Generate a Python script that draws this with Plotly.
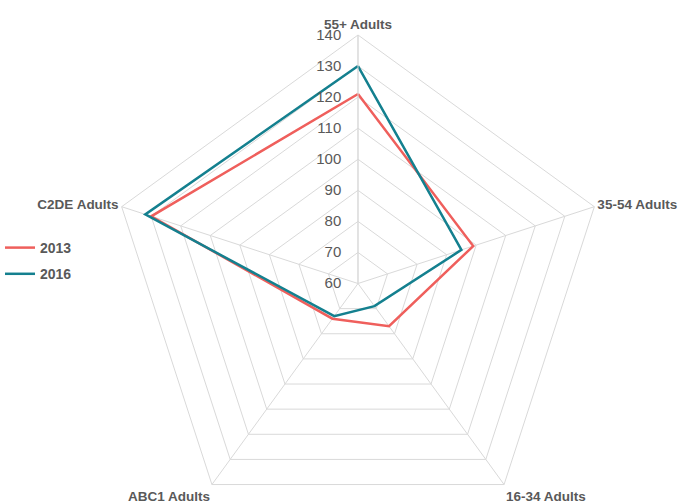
import plotly.graph_objects as go

# Audience index by demographic group
categories = ["55+ Adults", "35-54 Adults", "16-34 Adults", "ABC1 Adults", "C2DE Adults"]
values_2013 = [121, 99, 77, 74, 130]
values_2016 = [130, 95, 69, 73, 132]
radial_ticks = [60, 70, 80, 90, 100, 110, 120, 130, 140]

RED = "#EF5F5C"
TEAL = "#14808F"
GRID = "#D9D9D9"
TEXT = "#595959"

W, H = 689, 540


def closed(seq):
    return list(seq) + [seq[0]]


fig = go.Figure()
fig.add_trace(go.Scatterpolar(
    r=closed(values_2013), theta=closed(categories), name="2013",
    mode="lines", line=dict(color=RED, width=2.5), legendgroup="a",
))
fig.add_trace(go.Scatterpolar(
    r=closed(values_2016), theta=closed(categories), name="2016",
    mode="lines", line=dict(color=TEAL, width=2.5), legendgroup="b",
))

fig.update_layout(
    width=W, height=H,
    margin=dict(l=109, r=82, t=35, b=H - 532),
    paper_bgcolor="white",
    font=dict(family="Liberation Sans, Arial, sans-serif", color=TEXT),
    polar=dict(
        bgcolor="white",
        gridshape="linear",
        angularaxis=dict(
            rotation=90, direction="clockwise",
            categoryorder="array", categoryarray=categories,
            linecolor=GRID, linewidth=1, gridcolor=GRID,
            showticklabels=True, ticks="",
            tickfont=dict(size=13.5, color=TEXT, weight="bold",
                          family="Liberation Sans Narrow, Liberation Sans, Arial"),
        ),
        radialaxis=dict(
            range=[60, 140], tickvals=radial_ticks, angle=90,
            side="counterclockwise", tickangle=90,
            showline=True, linecolor=GRID, gridcolor=GRID,
            ticks="outside", ticklen=11, tickcolor="rgba(0,0,0,0)",
            tickfont=dict(size=15, color=TEXT),
        ),
    ),
    legend=dict(
        xref="container", yref="container",
        x=0.0, y=(H - 232) / H, xanchor="left", yanchor="top",
        font=dict(size=14, color=TEXT, weight="bold"),
        tracegroupgap=5, itemwidth=30, bgcolor="rgba(0,0,0,0)",
    ),
    showlegend=True,
)

fig.write_html(
    "out.html",
    post_script="document.body.style.margin='0';"
                "document.body.style.overflow='hidden';"
                "document.documentElement.style.overflow='hidden';",
)
